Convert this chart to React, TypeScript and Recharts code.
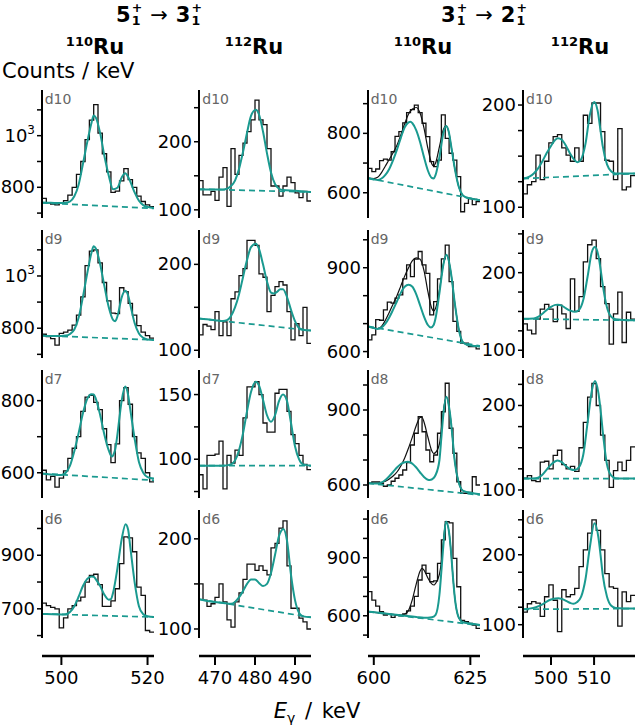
import React from "react";
import { LineChart, Line, XAxis, YAxis } from "recharts";

type Pair = [number, number];

const TEAL = "#1a9a90";
const INK = "#111";
const FONT = "'DejaVu Sans', Verdana, sans-serif";

// grid geometry (px)
const COL_AXIS_X = [41.7, 199.3, 367.7, 523];
const ROW_TOP = [90, 230, 370, 510];
const PLOT_W = 112;
const PLOT_H = 128;
const AXIS_W = 60;
const BOTTOM_AXIS_Y = 656;

// energy ranges, 1 keV bins starting at the lower edge
const BIN_START = [495.5, 466, 598.5, 493.5];
const X_DOMAINS: Pair[] = [
  [495.5, 521.5],
  [466, 494],
  [598.5, 627.5],
  [493.5, 519.5],
];
const X_TICKS = [[500, 520], [470, 480, 490], [600, 625], [500, 510]];

const ROW_TAGS = [
  ["d10", "d9", "d7", "d6"],
  ["d10", "d9", "d7", "d6"],
  ["d10", "d9", "d8", "d6"],
  ["d10", "d9", "d8", "d6"],
];

// ---- 110Ru, 5+ -> 3+ ----
const c1r1Counts = [757, 740, 735, 732, 738, 748, 770, 800, 850, 900, 985, 1060, 1120, 1010, 930, 860, 780, 785, 825, 872, 830, 800, 766, 745, 732, 725];
const c1r1Fit: Pair[] = [[495.5, 741], [497, 740], [499, 739], [501, 740], [502, 745], [503, 765], [504, 810], [505, 890], [506, 975], [507, 1050], [507.5, 1078], [508, 1070], [509, 1010], [510, 920], [511, 845], [512, 792], [513, 798], [514, 838], [514.8, 854], [515.5, 840], [516, 822], [517, 780], [518, 748], [519, 731], [520, 724], [521.5, 720]];
const c1r1Bg: Pair[] = [[495.5, 740], [521.5, 718]];

const c1r2Counts = [777, 768, 760, 735, 780, 785, 793, 812, 850, 920, 1040, 1095, 1100, 1050, 975, 905, 858, 856, 955, 940, 895, 850, 810, 785, 772, 762];
const c1r2Fit: Pair[] = [[495.5, 772], [497, 770], [499, 770], [501, 772], [502, 778], [503, 795], [504, 840], [505, 920], [506, 1010], [507, 1090], [507.5, 1114], [508, 1105], [509, 1045], [510, 960], [511, 880], [512, 832], [512.5, 827], [513, 845], [514, 918], [514.8, 943], [515.5, 925], [516, 890], [517, 820], [518, 780], [519, 763], [520, 757], [521.5, 755]];
const c1r2Bg: Pair[] = [[495.5, 772], [521.5, 755]];

const c1r3Counts = [607, 580, 590, 560, 585, 605, 640, 668, 700, 770, 810, 815, 795, 775, 722, 678, 628, 680, 800, 836, 790, 700, 655, 640, 600, 575];
const c1r3Fit: Pair[] = [[495.5, 598], [497, 596], [499, 594], [500, 594], [501, 600], [502, 620], [503, 660], [504, 710], [505, 765], [506, 805], [507, 818], [507.5, 817], [508, 805], [509, 760], [510, 705], [511, 662], [511.7, 645], [512, 648], [512.5, 665], [513, 705], [513.5, 755], [514, 800], [514.8, 839], [515.5, 815], [516, 775], [517, 695], [518, 630], [519, 600], [520, 588], [521.5, 584]];
const c1r3Bg: Pair[] = [[495.5, 598], [521.5, 579]];

const c1r4Counts = [721, 712, 705, 700, 629, 666, 700, 712, 730, 744, 800, 825, 829, 790, 709, 709, 730, 775, 869, 969, 965, 913, 781, 750, 619, 613];
const c1r4Fit: Pair[] = [[495.5, 681], [498, 680], [500, 679], [501, 680], [502, 688], [503, 710], [504, 745], [505, 785], [506, 812], [507, 821], [507.5, 820], [508, 810], [509, 785], [510, 752], [511, 734], [511.5, 736], [512, 760], [513, 850], [514, 960], [514.9, 1016], [515.5, 995], [516, 930], [517, 800], [518, 710], [519, 680], [520, 672], [521.5, 669]];
const c1r4Bg: Pair[] = [[495.5, 681], [521.5, 669]];

// ---- 112Ru, 5+ -> 3+ ----
const c2r1Counts = [143, 122, 122, 127, 114, 148, 162, 105, 190, 152, 180, 198, 215, 232, 261, 232, 225, 190, 135, 135, 120, 135, 148, 140, 125, 118, 127, 113];
const c2r1Fit: Pair[] = [[466, 130], [470, 130], [472, 130], [473, 131], [474, 135], [475, 143], [476, 160], [477, 185], [478, 213], [479, 238], [480.2, 247], [481, 240], [482, 215], [483, 183], [484, 155], [485, 138], [486, 131], [487, 129], [490, 128], [494, 126]];
const c2r1Bg: Pair[] = [[466, 130.5], [494, 126]];

const c2r2Counts = [118, 130, 128, 124, 145, 117, 133, 117, 160, 168, 187, 195, 228, 228, 222, 189, 185, 145, 164, 174, 180, 176, 145, 112, 131, 117, 150, 108];
const c2r2Fit: Pair[] = [[466, 137], [468, 136], [470, 135], [472, 134], [473, 135], [474, 140], [475, 150], [476, 165], [477, 185], [478, 205], [479, 220], [480.2, 224], [481, 218], [482, 200], [483, 180], [484, 167], [484.7, 166], [485.5, 168], [486.3, 171], [487, 171], [488, 162], [489, 147], [490, 134], [491, 126], [492, 124], [494, 123]];
const c2r2Bg: Pair[] = [[466, 137], [494, 123]];

const c2r3Counts = [88, 77, 103, 103, 104, 114, 77, 103, 97, 107, 103, 132, 156, 156, 160, 150, 128, 121, 121, 151, 154, 154, 137, 119, 112, 103, 96, 92];
const c2r3Fit: Pair[] = [[466, 95], [472, 95], [474, 96], [475, 99], [476, 107], [477, 120], [478, 137], [479, 152], [480.2, 160], [481, 157], [482, 146], [483, 134], [484, 129], [485, 134], [486, 145], [487, 150], [488, 145], [489, 128], [490, 110], [491, 100], [492, 96], [494, 95]];
const c2r3Bg: Pair[] = [[466, 95], [494, 95]];

const c2r4Counts = [150, 132, 125, 128, 135, 150, 130, 110, 102, 130, 140, 155, 172, 172, 165, 170, 165, 160, 190, 195, 212, 220, 170, 123, 123, 112, 108, 100];
const c2r4Fit: Pair[] = [[466, 133], [468, 131], [470, 130], [472, 129], [474, 128], [475, 130], [476, 135], [477, 142], [478, 150], [479, 155], [480, 155], [481, 151], [482, 147.6], [483, 150], [484, 162], [485, 182], [486, 203], [487.1, 211], [488, 198], [489, 160], [490, 132], [491, 118], [492, 114], [494, 113]];
const c2r4Bg: Pair[] = [[466, 133], [494, 113]];

// ---- 110Ru, 3+ -> 2+ (teal: partial fit, black: total) ----
const c3r1Counts = [682, 671, 680, 708, 713, 710, 738, 790, 806, 835, 870, 880, 895, 870, 834, 789, 705, 688, 710, 862, 783, 733, 710, 654, 536, 564, 580, 560, 570];
const c3r1Fit: Pair[] = [[598.5, 649], [600, 645], [601, 643], [602, 648], [603, 660], [604, 680], [605, 710], [606, 745], [607, 785], [608, 820], [609, 837], [609.5, 839], [610, 834], [611, 810], [612, 770], [613, 720], [614, 675], [615, 650], [615.5, 648], [616, 660], [617, 720], [618, 800], [618.7, 825], [619.5, 800], [620, 760], [621, 680], [622, 620], [623, 592], [624, 584], [625, 581], [627.5, 575]];
const c3r1Total: Pair[] = [[598.5, 649], [600, 648], [601, 652], [602, 668], [603, 690], [604, 712], [605, 735], [606, 760], [607, 795], [608, 832], [609, 865], [610, 882], [611, 887], [612, 868], [613, 818], [614, 750], [615, 698], [615.5, 690], [616, 700], [617, 755], [618, 812], [618.7, 825], [619.5, 800], [620, 760], [621, 680], [622, 620], [623, 592], [624, 584], [625, 581], [627.5, 575]];
const c3r1Bg: Pair[] = [[598.5, 649], [627.5, 575]];

const c3r2Counts = [642, 660, 714, 712, 749, 777, 773, 791, 803, 860, 910, 868, 931, 958, 910, 880, 731, 779, 860, 932, 981, 850, 708, 672, 630, 630, 618, 618, 610];
const c3r2Fit: Pair[] = [[598.5, 690], [600, 684], [601, 681], [602, 686], [603, 700], [604, 722], [605, 750], [606, 780], [607, 810], [608, 832], [609, 839], [610, 832], [611, 805], [612, 765], [613, 725], [614, 695], [614.8, 686], [615.5, 695], [616, 720], [617, 810], [618, 910], [618.8, 946], [619.5, 920], [620, 880], [621, 770], [622, 680], [623, 635], [624, 625], [625, 622], [627.5, 618]];
const c3r2Total: Pair[] = [[598.5, 690], [600, 684], [601, 682], [602, 690], [603, 712], [604, 740], [605, 770], [606, 800], [607, 835], [608, 870], [609, 900], [610, 925], [611, 935], [612, 930], [613, 890], [614, 815], [615, 755], [615.5, 745], [616, 755], [617, 820], [618, 912], [618.8, 946], [619.5, 920], [620, 880], [621, 770], [622, 680], [623, 635], [624, 625], [625, 622], [627.5, 618]];
const c3r2Bg: Pair[] = [[598.5, 690], [627.5, 620]];

const c3r3Counts = [607, 612, 612, 606, 595, 600, 615, 627, 640, 660, 690, 760, 807, 873, 813, 740, 693, 720, 807, 893, 1007, 827, 727, 613, 567, 567, 570, 633, 600];
const c3r3Fit: Pair[] = [[598.5, 607], [600, 606], [601, 606], [602, 610], [603, 620], [604, 635], [605, 652], [606, 670], [607, 684], [608, 691], [608.8, 693], [609.5, 690], [610, 685], [611, 670], [612, 650], [613, 632], [614, 621], [614.5, 620], [615.5, 628], [616, 640], [617, 700], [617.5, 790], [618, 880], [618.8, 953], [619.5, 910], [620, 850], [620.5, 770], [621, 690], [622, 610], [623, 578], [624, 572], [625, 569], [627.5, 563]];
const c3r3Total: Pair[] = [[598.5, 607], [601, 606], [602, 609], [603, 615], [604, 624], [605, 636], [606, 652], [607, 676], [608, 708], [609, 748], [610, 792], [611, 838], [612, 870], [612.5, 871], [613, 852], [614, 792], [615, 737], [615.5, 726], [616, 730], [617, 765], [617.5, 825], [618, 895], [618.8, 953], [619.5, 910], [620, 850], [620.5, 770], [621, 690], [622, 610], [623, 578], [624, 572], [625, 569], [627.5, 563]];
const c3r3Bg: Pair[] = [[598.5, 607], [627.5, 560]];

const c3r4Counts = [725, 681, 650, 621, 604, 607, 592, 604, 600, 610, 625, 650, 700, 785, 862, 819, 776, 780, 871, 992, 1087, 1080, 897, 750, 576, 569, 561, 552, 535];
const c3r4Fit: Pair[] = [[598.5, 621], [602, 614], [605, 607], [608, 600], [611, 594], [613, 590], [614, 590], [615, 592], [616, 605], [617, 710], [617.5, 830], [618, 960], [618.7, 1087], [619.5, 1030], [620, 930], [620.5, 800], [621, 690], [622, 590], [623, 567], [624, 563], [625, 560], [627.5, 552]];
const c3r4Total: Pair[] = [[598.5, 621], [602, 614], [605, 607], [607, 604], [608, 608], [609, 628], [610, 685], [611, 765], [612, 832], [612.5, 845], [613, 836], [614, 795], [615, 765], [615.6, 759], [616, 768], [617, 815], [617.5, 880], [618, 985], [618.7, 1087], [619.5, 1030], [620, 930], [620.5, 800], [621, 690], [622, 590], [623, 567], [624, 563], [625, 560], [627.5, 552]];
const c3r4Bg: Pair[] = [[598.5, 621], [627.5, 550]];

// ---- 112Ru, 3+ -> 2+ ----
const c4r1Counts = [113, 122, 125, 151, 127, 145, 163, 169, 171, 158, 151, 145, 158, 145, 190, 182, 202, 202, 174, 146, 145, 127, 177, 117, 120, 131];
const c4r1Fit: Pair[] = [[493.5, 128], [495, 130], [496, 133], [497, 138], [498, 145], [499, 153], [500, 160], [501, 166], [501.6, 167.5], [502.5, 166], [503.5, 160], [504.5, 152], [505.5, 146], [506.2, 144], [507, 147], [508, 162], [509, 190], [510, 203], [510.8, 195], [511.5, 175], [512, 160], [513, 142], [514, 135], [515, 133], [517, 133], [519.5, 133]];
const c4r1Bg: Pair[] = [[493.5, 128], [519.5, 133]];

const c4r2Counts = [134, 126, 121, 140, 153, 159, 153, 137, 158, 147, 128, 192, 150, 169, 214, 236, 242, 218, 182, 160, 108, 147, 175, 110, 149, 140];
const c4r2Fit: Pair[] = [[493.5, 140.5], [496, 141], [497, 143], [498, 147], [499, 152], [500, 156], [501, 158.5], [501.6, 158.8], [502.5, 157.5], [503.5, 154], [504.5, 151], [505.5, 149.5], [506.5, 152], [507.5, 165], [508.5, 195], [509.5, 227], [510.2, 233], [511, 222], [511.5, 205], [512, 185], [513, 155], [514, 143], [515, 140], [517, 139], [519.5, 138.5]];
const c4r2Bg: Pair[] = [[493.5, 140.5], [519.5, 138.5]];

const c4r3Counts = [114, 117, 111, 110, 133, 134, 125, 141, 147, 130, 125, 128, 122, 150, 180, 210, 226, 200, 165, 135, 103, 123, 133, 123, 135, 151];
const c4r3Fit: Pair[] = [[493.5, 113.5], [496, 113.5], [497, 114.5], [498, 118], [499, 124], [500, 130], [501, 134], [501.5, 135], [502.5, 133], [503.5, 128], [504.5, 124.5], [505.5, 123.5], [506.5, 127], [507.5, 142], [508.5, 180], [509.5, 218], [510.2, 229], [511, 215], [511.5, 195], [512, 170], [513, 130], [514, 117], [515, 114], [519.5, 113.5]];
const c4r3Bg: Pair[] = [[493.5, 113.5], [519.5, 113.5]];

const c4r4Counts = [118, 130, 133, 131, 112, 140, 157, 135, 90, 150, 140, 143, 152, 183, 207, 231, 250, 235, 207, 173, 154, 152, 98, 147, 133, 142];
const c4r4Fit: Pair[] = [[493.5, 122], [495, 123], [496.5, 125], [498, 129], [499, 133], [500, 136], [501, 137.5], [501.7, 138], [502.5, 137], [503.5, 134], [504.5, 131], [505.2, 130], [506, 132], [507, 140], [508, 165], [509, 210], [510.1, 245], [511, 225], [511.5, 200], [512, 172], [513, 140], [514, 127], [515, 124], [519.5, 123]];
const c4r4Bg: Pair[] = [[493.5, 122], [519.5, 123]];

// y axes: domain, tick marks, labelled ticks
const Y_DOMAINS: Pair[][] = [
  [[681, 1177], [686, 1176], [530, 885], [591, 1069]],
  [[88, 276], [91, 240], [70, 169], [90, 232]],
  [[515, 946], [577, 1035], [548, 1060], [485, 1147]],
  [[89.5, 214.7], [90, 255], [90.5, 242], [81, 264]],
];
const Y_TICKS = [
  [[700, 800, 900, 1000, 1100], [700, 800, 900, 1000, 1100], [600, 700, 800], [600, 700, 800, 900, 1000]],
  [[100, 150, 200, 250], [100, 150, 200], [75, 100, 125, 150], [100, 150, 200]],
  [[600, 700, 800, 900], [600, 700, 800, 900, 1000], [600, 700, 800, 900, 1000], [500, 600, 700, 800, 900, 1000, 1100]],
  [[100, 125, 150, 175, 200], [100, 125, 150, 175, 200, 225, 250], [100, 125, 150, 175, 200, 225], [100, 125, 150, 175, 200, 225, 250]],
];
const Y_LABELS = [
  [[800, 1000], [800, 1000], [600, 800], [700, 900]],
  [[100, 200], [100, 200], [100, 150], [100, 200]],
  [[600, 800], [600, 900], [600, 900], [600, 900]],
  [[100, 200], [100, 200], [100, 200], [100, 200]],
];

const COUNTS = [
  [c1r1Counts, c1r2Counts, c1r3Counts, c1r4Counts],
  [c2r1Counts, c2r2Counts, c2r3Counts, c2r4Counts],
  [c3r1Counts, c3r2Counts, c3r3Counts, c3r4Counts],
  [c4r1Counts, c4r2Counts, c4r3Counts, c4r4Counts],
];
const FITS = [
  [c1r1Fit, c1r2Fit, c1r3Fit, c1r4Fit],
  [c2r1Fit, c2r2Fit, c2r3Fit, c2r4Fit],
  [c3r1Fit, c3r2Fit, c3r3Fit, c3r4Fit],
  [c4r1Fit, c4r2Fit, c4r3Fit, c4r4Fit],
];
const TOTALS: (Pair[] | null)[][] = [
  [null, null, null, null],
  [null, null, null, null],
  [c3r1Total, c3r2Total, c3r3Total, c3r4Total],
  [null, null, null, null],
];
const BGS = [
  [c1r1Bg, c1r2Bg, c1r3Bg, c1r4Bg],
  [c2r1Bg, c2r2Bg, c2r3Bg, c2r4Bg],
  [c3r1Bg, c3r2Bg, c3r3Bg, c3r4Bg],
  [c4r1Bg, c4r2Bg, c4r3Bg, c4r4Bg],
];

function histSteps(counts: number[], start: number) {
  const pts = counts.map((c, i) => ({ x: start + i, y: c }));
  pts.push({ x: start + counts.length, y: counts[counts.length - 1] });
  return pts;
}

const asPoints = (pairs: Pair[]) => pairs.map(([x, y]) => ({ x, y }));

function yTick(labels: number[]) {
  return (props: any) => {
    const { x, y, payload } = props;
    if (!labels.includes(payload.value)) return <g />;
    if (payload.value === 1000) {
      return (
        <text x={x} y={y} dy={6} textAnchor="end" fontSize={18} fontFamily={FONT} fill="#000">
          10
          <tspan dy={-8} fontSize={12}>3</tspan>
        </text>
      );
    }
    return (
      <text x={x} y={y} dy={6} textAnchor="end" fontSize={18} fontFamily={FONT} fill="#000">
        {payload.value}
      </text>
    );
  };
}

function Panel({ col, row }: { col: number; row: number }) {
  const total = TOTALS[col][row];
  return (
    <div style={{ position: "absolute", left: COL_AXIS_X[col] - AXIS_W, top: ROW_TOP[row] }}>
      <LineChart width={AXIS_W + PLOT_W} height={PLOT_H} margin={{ top: 0, right: 0, bottom: 0, left: 0 }}>
        <XAxis type="number" dataKey="x" domain={X_DOMAINS[col]} hide allowDataOverflow />
        <YAxis
          type="number"
          domain={Y_DOMAINS[col][row]}
          ticks={Y_TICKS[col][row]}
          interval={0}
          width={AXIS_W}
          allowDataOverflow
          tickSize={5}
          tickMargin={2}
          axisLine={{ stroke: "#000", strokeWidth: 2 }}
          tickLine={{ stroke: "#000", strokeWidth: 1.5 }}
          tick={yTick(Y_LABELS[col][row])}
        />
        <Line
          data={histSteps(COUNTS[col][row], BIN_START[col])}
          dataKey="y"
          type="stepAfter"
          stroke={INK}
          strokeWidth={1.3}
          dot={false}
          isAnimationActive={false}
        />
        {total && (
          <Line
            data={asPoints(total)}
            dataKey="y"
            type="monotone"
            stroke={INK}
            strokeWidth={1.2}
            dot={false}
            isAnimationActive={false}
          />
        )}
        <Line
          data={asPoints(BGS[col][row])}
          dataKey="y"
          type="linear"
          stroke={TEAL}
          strokeWidth={1.7}
          strokeDasharray="6 4"
          dot={false}
          isAnimationActive={false}
        />
        <Line
          data={asPoints(FITS[col][row])}
          dataKey="y"
          type="monotone"
          stroke={TEAL}
          strokeWidth={2}
          dot={false}
          isAnimationActive={false}
        />
      </LineChart>
      <div
        style={{
          position: "absolute",
          left: AXIS_W + 3,
          top: 2,
          fontFamily: FONT,
          fontSize: 14,
          lineHeight: "14px",
          color: "#666",
        }}
      >
        {ROW_TAGS[col][row]}
      </div>
    </div>
  );
}

// shared energy axis, drawn a little below the last row
function EnergyAxis({ col }: { col: number }) {
  return (
    <div style={{ position: "absolute", left: COL_AXIS_X[col] - AXIS_W, top: BOTTOM_AXIS_Y - 10 }}>
      <LineChart
        width={AXIS_W + PLOT_W + 24}
        height={50}
        margin={{ top: 0, right: 24, bottom: 0, left: AXIS_W }}
        data={histSteps(COUNTS[col][3], BIN_START[col])}
      >
        <XAxis
          type="number"
          dataKey="x"
          domain={X_DOMAINS[col]}
          ticks={X_TICKS[col]}
          interval={0}
          height={40}
          allowDataOverflow
          tickSize={9}
          tickMargin={6}
          axisLine={{ stroke: "#000", strokeWidth: 2.5 }}
          tickLine={{ stroke: "#000", strokeWidth: 2 }}
          tick={{ fontSize: 18, fill: "#000", fontFamily: FONT }}
        />
        <YAxis hide domain={Y_DOMAINS[col][3]} />
      </LineChart>
    </div>
  );
}

function Level({ j }: { j: string }) {
  return (
    <span style={{ display: "inline-flex", alignItems: "center" }}>
      {j}
      <span
        style={{
          display: "inline-flex",
          flexDirection: "column",
          fontSize: "0.6em",
          lineHeight: 1,
          marginLeft: 1,
        }}
      >
        <span>+</span>
        <span>1</span>
      </span>
    </span>
  );
}

function Transition({ from, to, cx }: { from: string; to: string; cx: number }) {
  return (
    <div
      style={{
        position: "absolute",
        left: cx,
        top: 2,
        transform: "translateX(-50%)",
        display: "flex",
        alignItems: "center",
        gap: 8,
        fontFamily: FONT,
        fontWeight: "bold",
        fontSize: 21,
        whiteSpace: "nowrap",
      }}
    >
      <Level j={from} />
      <span style={{ fontWeight: "normal" }}>→</span>
      <Level j={to} />
    </div>
  );
}

function Isotope({ mass, cx }: { mass: string; cx: number }) {
  return (
    <div
      style={{
        position: "absolute",
        left: cx,
        top: 29,
        transform: "translateX(-50%)",
        fontFamily: FONT,
        fontWeight: "bold",
        fontSize: 21,
        lineHeight: "26px",
        whiteSpace: "nowrap",
      }}
    >
      <span style={{ fontSize: 13, verticalAlign: 8 }}>{mass}</span>
      Ru
    </div>
  );
}

export default function App() {
  return (
    <div
      style={{
        position: "absolute",
        left: 0,
        top: 0,
        width: 636,
        height: 725,
        background: "#fff",
        overflow: "hidden",
      }}
    >
      <style>{`.recharts-surface { overflow: visible; }`}</style>
      <Transition from="5" to="3" cx={159} />
      <Transition from="3" to="2" cx={484} />
      <Isotope mass="110" cx={95} />
      <Isotope mass="112" cx={254} />
      <Isotope mass="110" cx={423} />
      <Isotope mass="112" cx={580} />
      <div
        style={{
          position: "absolute",
          left: 2,
          top: 59,
          fontFamily: FONT,
          fontSize: 21,
          lineHeight: "24px",
          whiteSpace: "nowrap",
        }}
      >
        Counts / keV
      </div>

      {[0, 1, 2, 3].map((col) =>
        [0, 1, 2, 3].map((row) => <Panel key={`${col}-${row}`} col={col} row={row} />)
      )}
      {[0, 1, 2, 3].map((col) => (
        <EnergyAxis key={col} col={col} />
      ))}

      <div
        style={{
          position: "absolute",
          left: 317,
          top: 699,
          transform: "translateX(-50%)",
          fontFamily: FONT,
          fontSize: 21,
          lineHeight: "24px",
          whiteSpace: "nowrap",
          wordSpacing: 3,
        }}
      >
        <i>E</i>
        <span style={{ fontSize: 14, verticalAlign: -5 }}>γ</span> / keV
      </div>
    </div>
  );
}
